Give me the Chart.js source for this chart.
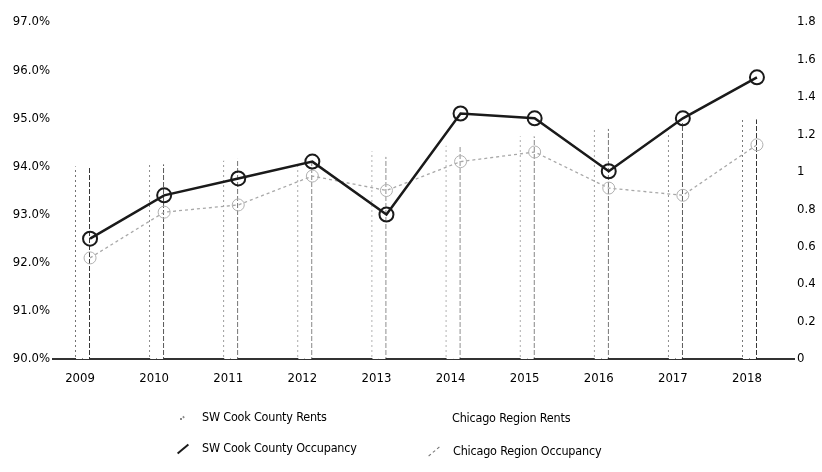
<!DOCTYPE html>
<html>
<head>
<meta charset="utf-8">
<script src="https://cdn.jsdelivr.net/npm/chart.js@4/dist/chart.umd.min.js"></script>
<style>
  body { margin: 0; background: #fff; }
  #wrap { position: relative; width: 822px; height: 472px; overflow: hidden; }
  #legend { position: absolute; left: 0; top: 0; width: 822px; height: 472px; pointer-events: none;
    font-family: "Liberation Sans Narrow", "DejaVu Sans Condensed", "Roboto Condensed", Roboto, sans-serif; font-size: 12.5px; color: #000; }
  .item { position: absolute; white-space: nowrap; line-height: 16px; letter-spacing: -0.2px; }
  .icon { position: absolute; width: 14px; height: 0; top: 8px; left: -26px; transform: rotate(-40deg); }
</style>
</head>
<body>
<div id="wrap">
  <canvas id="chart" width="822" height="395"></canvas>
  <div id="legend"></div>
</div>
<script>
// Data
const years = ['2009', '2010', '2011', '2012', '2013', '2014', '2015', '2016', '2017', '2018'];
const swCookRents = [1.03, 1.04, 1.06, 1.04, 1.11, 1.14, 1.19, 1.23, 1.20, 1.28];
const chicagoRents = [1.03, 1.04, 1.07, 1.05, 1.08, 1.14, 1.19, 1.23, 1.26, 1.28];
const swCookOccupancy = [92.5, 93.4, 93.75, 94.1, 93.0, 95.1, 95.0, 93.9, 95.0, 95.85];
const chicagoOccupancy = [92.1, 93.05, 93.2, 93.8, 93.5, 94.1, 94.3, 93.55, 93.4, 94.45];
const occTicks = [90, 91, 92, 93, 94, 95, 96, 97];
const rentTicks = [0, 0.2, 0.4, 0.6, 0.8, 1, 1.2, 1.4, 1.6, 1.8];

const FONT = '"Liberation Sans Narrow", "DejaVu Sans Condensed", "Roboto Condensed", Roboto, sans-serif';

// vertical dashed edge for the bars (bars draw their border as a fill, so use a pattern)
function dashPattern(color, on, period) {
  const c = document.createElement('canvas');
  c.width = 2; c.height = period;
  const g = c.getContext('2d');
  g.fillStyle = color;
  g.fillRect(0, 0, 2, on);
  return g.createPattern(c, 'repeat');
}

document.addEventListener('DOMContentLoaded', () => {
  const ctx = document.getElementById('chart');

  const datasets = [
    { type: 'line', label: 'SW Cook County Occupancy', data: swCookOccupancy, yAxisID: 'yOcc', order: 0,
      borderColor: '#1a1a1a', borderWidth: 2.5, pointRadius: 7, pointBorderWidth: 2,
      pointBackgroundColor: 'rgba(255,255,255,0)', pointBorderColor: '#1a1a1a', tension: 0 },
    { type: 'line', label: 'Chicago Region Occupancy', data: chicagoOccupancy, yAxisID: 'yOcc', order: 0,
      borderColor: '#a8a8a8', borderWidth: 1.3, borderDash: [3, 3], pointRadius: 6, pointBorderWidth: 1,
      pointBackgroundColor: 'rgba(255,255,255,0)', pointBorderColor: '#b0b0b0', tension: 0 },
    { type: 'bar', label: 'SW Cook County Rents', data: swCookRents, yAxisID: 'yRent', order: 1,
      backgroundColor: '#fff', borderColor: dashPattern('#666', 2, 5), borderSkipped: false,
      borderWidth: { left: 1, right: 0, top: 0, bottom: 0 } },
    { type: 'bar', label: 'Chicago Region Rents', data: chicagoRents, yAxisID: 'yRent', order: 1,
      backgroundColor: '#fff', borderColor: dashPattern('#222', 5, 7), borderSkipped: false,
      borderWidth: { left: 0, right: 1, top: 0, bottom: 0 } },
    // empty slots so the rent pair sits left of the year's point, as in the scan
    { type: 'bar', label: '', data: [], yAxisID: 'yRent', order: 1 },
    { type: 'bar', label: '', data: [], yAxisID: 'yRent', order: 1 }
  ];

  new Chart(ctx, {
    data: { labels: years, datasets },
    options: {
      responsive: false,
      animation: false,
      layout: { padding: { top: 22, left: 0, right: 0, bottom: 0 } },
      datasets: { bar: { categoryPercentage: 0.405, barPercentage: 1 } },
      plugins: { legend: { display: false }, tooltip: { enabled: false } },
      scales: {
        x: {
          grid: { display: false, drawTicks: false },
          border: { display: true, color: '#333', width: 2 },
          ticks: { color: '#000', font: { family: FONT, size: 13 }, padding: 12, labelOffset: -10, maxRotation: 0 },
          afterFit: (s) => { s.height = 36; }
        },
        yOcc: {
          position: 'left', min: occTicks[0], max: occTicks[occTicks.length - 1],
          grid: { display: false, drawTicks: false }, border: { display: false },
          afterBuildTicks: (s) => { s.ticks = occTicks.map((v) => ({ value: v })); },
          ticks: { color: '#000', font: { family: FONT, size: 13 }, padding: 3, callback: (v) => v.toFixed(1) + '%' },
          afterFit: (s) => { s.width = 53; }
        },
        yRent: {
          position: 'right', min: rentTicks[0], max: rentTicks[rentTicks.length - 1],
          grid: { display: false, drawTicks: false }, border: { display: false },
          afterBuildTicks: (s) => { s.ticks = rentTicks.map((v) => ({ value: v })); },
          ticks: { color: '#000', font: { family: FONT, size: 13 }, padding: 3, callback: (v) => String(Math.round(v * 10) / 10) },
          afterFit: (s) => { s.width = 28; }
        }
      }
    }
  });

  // two-column legend under the chart
  const icons = {
    'SW Cook County Rents': '<span class="icon" style="border-top:2px dotted #888;width:5px;left:-22px"></span>',
    'Chicago Region Rents': '',
    'SW Cook County Occupancy': '<span class="icon" style="border-top:2.5px solid #1a1a1a"></span>',
    'Chicago Region Occupancy': '<span class="icon" style="border-top:1px dashed #777"></span>'
  };
  const spots = {
    'SW Cook County Rents': [202, 409],
    'Chicago Region Rents': [452, 410],
    'SW Cook County Occupancy': [202, 440],
    'Chicago Region Occupancy': [453, 443]
  };
  document.getElementById('legend').innerHTML = datasets.filter((d) => d.label).map((d) => `
    <div class="item" style="left:${spots[d.label][0]}px;top:${spots[d.label][1]}px">${icons[d.label]}${d.label}</div>
  `).join('');
});
</script>
</body>
</html>
